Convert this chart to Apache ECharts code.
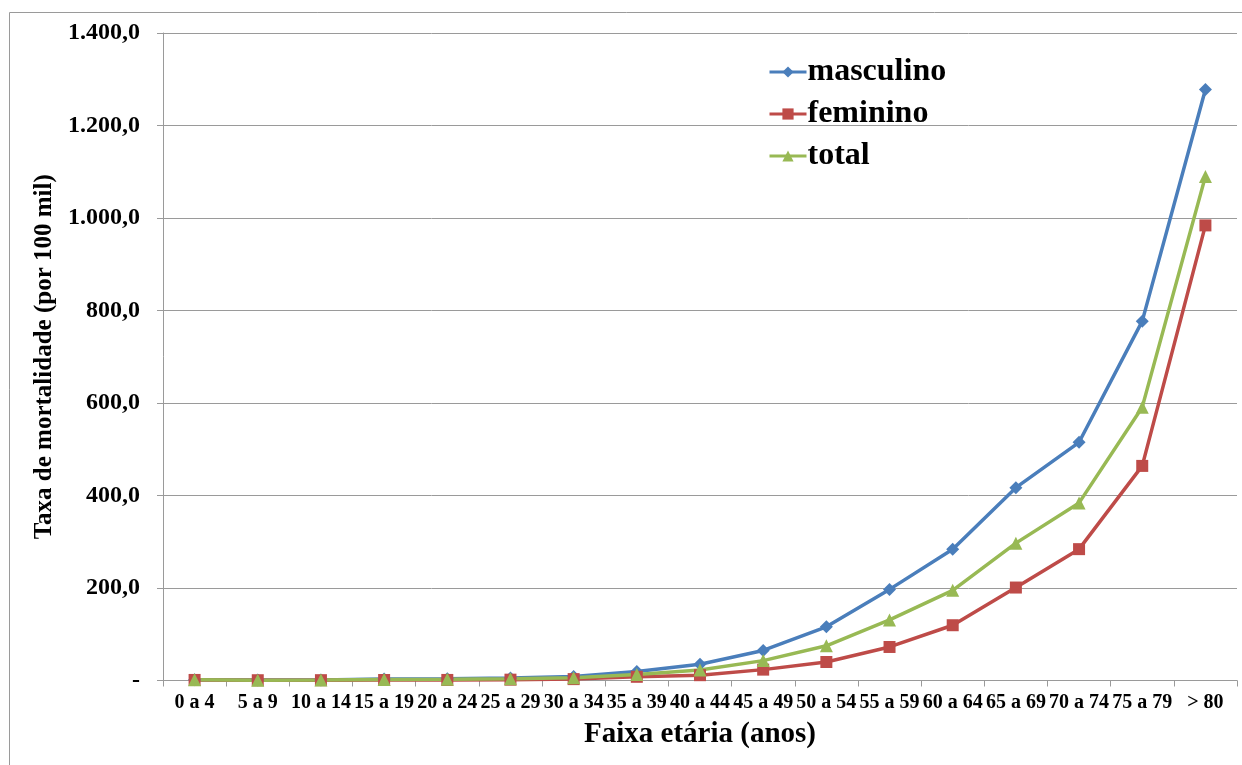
<!DOCTYPE html>
<html>
<head>
<meta charset="utf-8">
<script src="https://cdn.jsdelivr.net/npm/echarts@6/dist/echarts.min.js"></script>
<style>
  html, body { margin: 0; padding: 0; background: #fff; }
  #chart { width: 1242px; height: 765px; }
</style>
</head>
<body>
<div id="chart"></div>
<script>
// Faixas etárias (eixo X)
const faixas = ['0 a 4', '5 a 9', '10 a 14', '15 a 19', '20 a 24', '25 a 29', '30 a 34', '35 a 39',
  '40 a 44', '45 a 49', '50 a 54', '55 a 59', '60 a 64', '65 a 69', '70 a 74', '75 a 79', '> 80'];

// Taxa de mortalidade por 100 mil habitantes
const masculino = [1.5, 0.9, 1.2, 3.0, 4.0, 5.5, 8.5, 19.5, 35, 65, 116, 197, 284, 417, 515, 777, 1278];
const feminino = [1.2, 0.6, 0.7, 1.1, 1.2, 1.8, 3.0, 8, 11.5, 23.5, 40, 72.5, 119.5, 201, 284, 464, 984];
const total = [1.4, 0.7, 0.9, 2.0, 2.6, 3.6, 5.7, 13, 22.5, 43, 75, 131, 195, 297, 384, 591, 1090];

const FONT = '"Liberation Serif", "Times New Roman", serif';

// número no formato brasileiro: 1.400,0 ; zero aparece como "-"
function fmtBR(v) {
  if (v === 0) return '-';
  const parts = v.toFixed(1).split('.');
  parts[0] = parts[0].replace(/\B(?=(\d{3})+(?!\d))/g, '.');
  return parts.join(',');
}

const chart = echarts.init(document.getElementById('chart'), null, { renderer: 'canvas' });

function serie(name, data, color, symbol, size) {
  return {
    name: name,
    type: 'line',
    data: data,
    symbol: symbol,
    symbolSize: size,
    showSymbol: true,
    lineStyle: { color: color, width: 3.5 },
    itemStyle: { color: color },
    emphasis: { disabled: true },
    animation: false
  };
}

chart.setOption({
  backgroundColor: '#ffffff',
  animation: false,
  graphic: [{
    type: 'rect',
    shape: { x: 9.5, y: 12.5, width: 1400, height: 900 },
    style: { fill: 'none', stroke: '#9a9a9a', lineWidth: 1 },
    silent: true
  }],
  grid: { left: 163, right: 5, top: 33, bottom: 84.5, containLabel: false },
  legend: {
    orient: 'vertical',
    left: 763,
    top: 51,
    itemWidth: 37,
    itemHeight: 14,
    itemGap: 10,
    lineStyle: { width: 3 },
    textStyle: { fontFamily: FONT, fontWeight: 'bold', fontSize: 32, color: '#000', padding: [0, 0, 0, -4] },
    data: ['masculino', 'feminino', 'total']
  },
  xAxis: {
    type: 'category',
    data: faixas,
    boundaryGap: true,
    name: 'Faixa etária (anos)',
    nameLocation: 'middle',
    nameGap: 40,
    nameTextStyle: { fontFamily: FONT, fontWeight: 'bold', fontSize: 29, color: '#000' },
    axisLine: { lineStyle: { color: '#9a9a9a', width: 1 } },
    axisTick: { show: true, alignWithLabel: false, length: 6, lineStyle: { color: '#9a9a9a' } },
    axisLabel: { interval: 0, margin: 12, fontFamily: FONT, fontWeight: 'bold', fontSize: 20, color: '#000' },
    splitLine: { show: false }
  },
  yAxis: {
    type: 'value',
    min: 0,
    max: 1400,
    interval: 200,
    name: 'Taxa de mortalidade (por 100 mil)',
    nameLocation: 'middle',
    nameGap: 105,
    nameRotate: 90,
    nameTextStyle: { fontFamily: FONT, fontWeight: 'bold', fontSize: 25, color: '#000' },
    axisLine: { show: true, lineStyle: { color: '#9a9a9a', width: 1 } },
    axisTick: { show: true, length: 6, lineStyle: { color: '#9a9a9a' } },
    axisLabel: { margin: 23, fontFamily: FONT, fontWeight: 'bold', fontSize: 24, color: '#000', formatter: fmtBR },
    splitLine: { show: true, lineStyle: { color: '#9a9a9a', width: 1 } }
  },
  series: [
    serie('masculino', masculino, '#4A7EBB', 'diamond', 13),
    serie('feminino', feminino, '#BE4B48', 'rect', 12),
    serie('total', total, '#98B954', 'triangle', 13)
  ]
});
</script>
</body>
</html>
